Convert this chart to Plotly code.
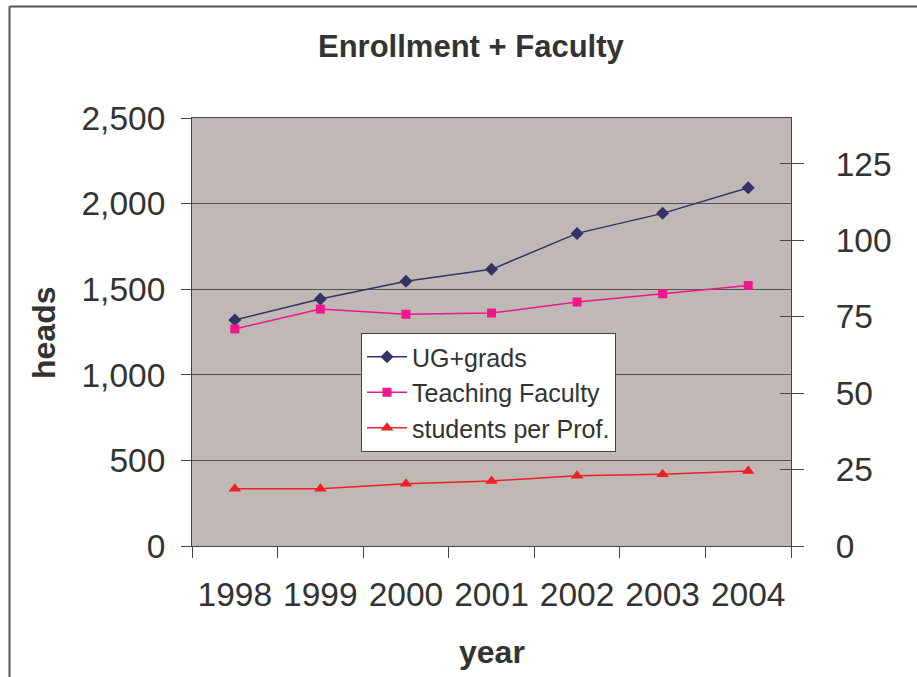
import plotly.graph_objects as go

years = ["1998", "1999", "2000", "2001", "2002", "2003", "2004"]
ug_grads = [1320, 1443, 1546, 1616, 1826, 1943, 2093]
teaching_faculty = [71.0, 77.5, 75.8, 76.2, 79.8, 82.5, 85.2]
students_per_prof = [18.7, 18.7, 20.4, 21.3, 23.0, 23.5, 24.5]
left_ticks = [0, 500, 1000, 1500, 2000, 2500]
right_ticks = [0, 25, 50, 75, 100, 125]

W, H = 917, 677
L, R, T, B = 192, 791, 118, 546
FONT = "Liberation Sans, Arial, Helvetica, sans-serif"
TXT = "#333333"

def px_x(p):
    return (p - L) / (R - L)

def px_y(p):
    return (B - p) / (B - T)

fig = go.Figure()
fig.add_trace(go.Scatter(x=years, y=ug_grads, name="UG+grads", mode="lines+markers",
                         line=dict(color="#333366", width=1.5),
                         marker=dict(symbol="diamond", size=10, color="#333366"),
                         legendgroup="a", yaxis="y"))
fig.add_trace(go.Scatter(x=years, y=teaching_faculty, name="Teaching Faculty", mode="lines+markers",
                         line=dict(color="#F0168C", width=1.5),
                         marker=dict(symbol="square", size=9, color="#F0168C"),
                         legendgroup="b", yaxis="y2"))
fig.add_trace(go.Scatter(x=years, y=students_per_prof, name="students per Prof.", mode="lines+markers",
                         line=dict(color="#EE2026", width=1.5),
                         marker=dict(symbol="triangle-up", size=11, color="#EE2026"),
                         legendgroup="c", yaxis="y2"))
fig.add_trace(go.Scatter(x=years[:1], y=[None], yaxis="y3", showlegend=False, hoverinfo="skip"))

fig.update_layout(
    width=W, height=H,
    margin=dict(l=L, r=W - R, t=T, b=H - B, autoexpand=False),
    paper_bgcolor="white",
    plot_bgcolor="#C0B8B5",
    font=dict(family=FONT, color=TXT, size=33),
    showlegend=True,
    legend=dict(x=px_x(361), y=px_y(333), xanchor="left", yanchor="top",
                bgcolor="white", bordercolor="#444444", borderwidth=1,
                font=dict(size=25, color=TXT), tracegroupgap=0,
                itemwidth=40),
    xaxis=dict(type="category", range=[-0.5, 6.5], tickson="boundaries",
               ticks="outside", ticklen=11, tickcolor="#444", tickwidth=1,
               showline=True, linecolor="#444", linewidth=1, mirror=True,
               showgrid=False, zeroline=False, ticklabelstandoff=19,
               tickfont=dict(size=33.5, color=TXT)),
    yaxis=dict(range=[0, 2500], tickvals=left_ticks, tickformat=",",
               ticks="outside", ticklen=10, tickcolor="#444",
               showline=True, linecolor="#444", linewidth=1,
               showgrid=True, gridcolor="#555555", gridwidth=1, zeroline=False,
               ticklabelstandoff=9, tickfont=dict(size=33.5, color=TXT)),
    yaxis2=dict(range=[0, 140], tickvals=right_ticks, overlaying="y", side="right",
                ticks="outside", ticklen=12, tickcolor="#444",
                showline=True, linecolor="#444", linewidth=1,
                showgrid=False, zeroline=False, ticklabelstandoff=25,
                tickfont=dict(size=33.5, color=TXT)),
    yaxis3=dict(range=[0, 140], tickvals=right_ticks, overlaying="y", side="right",
                anchor="x", ticks="inside", ticklen=11, tickcolor="#444",
                showticklabels=False, showline=False, showgrid=False, zeroline=False),
)

# outer chart frame (top and left edges visible)
fig.add_shape(type="line", xref="paper", yref="paper", x0=px_x(9.5), x1=px_x(930),
              y0=px_y(6.5), y1=px_y(6.5), line=dict(color="#555555", width=2))
fig.add_shape(type="line", xref="paper", yref="paper", x0=px_x(9.5), x1=px_x(9.5),
              y0=px_y(6.5), y1=px_y(690), line=dict(color="#555555", width=2))

fig.add_annotation(text="<b>Enrollment + Faculty</b>", xref="paper", yref="paper",
                   x=px_x(471), y=px_y(47), xanchor="center", yanchor="middle",
                   showarrow=False, font=dict(size=31, color=TXT, family=FONT))
fig.add_annotation(text="<b>heads</b>", xref="paper", yref="paper",
                   x=px_x(44), y=px_y(333), xanchor="center", yanchor="middle",
                   showarrow=False, textangle=-90,
                   font=dict(size=32, color=TXT, family=FONT))
fig.add_annotation(text="<b>year</b>", xref="paper", yref="paper",
                   x=px_x(492), y=px_y(652), xanchor="center", yanchor="middle",
                   showarrow=False, font=dict(size=32, color=TXT, family=FONT))

fig.write_html("out.html", config={"displayModeBar": False},
               post_script="document.body.style.margin='0';document.body.style.overflow='hidden';")
